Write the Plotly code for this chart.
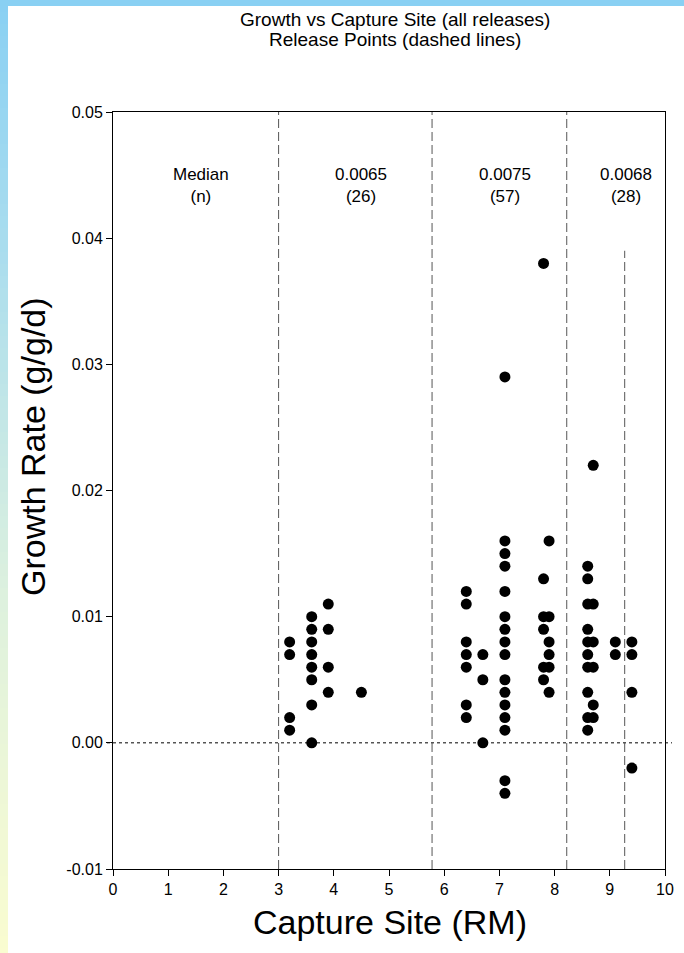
import plotly.graph_objects as go

# Capture site (river mile) and growth rate (g/g/d) for each recaptured fish
capture_site = [
    3.2, 3.2, 3.2, 3.2,
    3.6, 3.6, 3.6, 3.6, 3.6, 3.6, 3.6, 3.6,
    3.9, 3.9, 3.9, 3.9,
    4.5,
    6.4, 6.4, 6.4, 6.4, 6.4, 6.4, 6.4,
    6.7, 6.7, 6.7,
    7.1, 7.1, 7.1, 7.1, 7.1, 7.1, 7.1, 7.1, 7.1, 7.1, 7.1, 7.1, 7.1, 7.1, 7.1, 7.1,
    7.8, 7.8, 7.8, 7.8, 7.8, 7.8,
    7.9, 7.9, 7.9, 7.9, 7.9, 7.9,
    8.6, 8.6, 8.6, 8.6, 8.6, 8.6, 8.6, 8.6, 8.6, 8.6,
    8.7, 8.7, 8.7, 8.7, 8.7, 8.7,
    9.1, 9.1,
    9.4, 9.4, 9.4, 9.4,
]
growth_rate = [
    0.008, 0.007, 0.002, 0.001,
    0.010, 0.009, 0.008, 0.007, 0.006, 0.005, 0.003, 0.000,
    0.011, 0.009, 0.006, 0.004,
    0.004,
    0.012, 0.011, 0.008, 0.007, 0.006, 0.003, 0.002,
    0.007, 0.005, 0.000,
    0.029, 0.016, 0.015, 0.014, 0.012, 0.010, 0.009, 0.008, 0.007, 0.005, 0.004, 0.003, 0.002, 0.001, -0.003, -0.004,
    0.038, 0.013, 0.010, 0.009, 0.006, 0.005,
    0.016, 0.010, 0.008, 0.007, 0.006, 0.004,
    0.014, 0.013, 0.011, 0.009, 0.008, 0.007, 0.006, 0.004, 0.002, 0.001,
    0.022, 0.011, 0.008, 0.006, 0.003, 0.002,
    0.008, 0.007,
    0.008, 0.007, 0.004, -0.002,
]

# Release points (river mile); the last release line only runs up to release_top
release_points = [3.0, 5.78, 8.22, 9.27]
release_top = [0.05, 0.05, 0.05, 0.039]

# Median growth and sample size for each reach
reach_centers = [1.6, 4.5, 7.1, 9.3]
reach_labels = ["Median<br>(n)", "0.0065<br>(26)", "0.0075<br>(57)", "0.0068<br>(28)"]

x_ticks = list(range(0, 11))
y_ticks = [-0.01, 0.00, 0.01, 0.02, 0.03, 0.04, 0.05]

W, H = 684, 953
L, R, T, B = 113, 19, 112, 84
PW, PH = W - L - R, H - T - B


def px_x(px):
    return (px - L) / PW


def px_y(py):
    return (H - B - py) / PH


FONT = "Liberation Sans, Arial, sans-serif"

fig = go.Figure()
fig.add_trace(go.Scatter(
    x=capture_site, y=growth_rate, mode="markers",
    marker=dict(color="black", size=11, line=dict(width=0)),
    showlegend=False, cliponaxis=False,
))

shapes = []

# page backdrop: blue top band and a blue-to-yellow strip down the left edge
stops = [(0, (137, 208, 243)), (250, (170, 221, 238)), (600, (222, 241, 222)), (953, (250, 252, 208))]


def grad(py):
    for (y0, c0), (y1, c1) in zip(stops[:-1], stops[1:]):
        if y0 <= py <= y1:
            t = (py - y0) / (y1 - y0)
            return "rgb(%d,%d,%d)" % tuple(round(a + (b - a) * t) for a, b in zip(c0, c1))
    return "rgb(%d,%d,%d)" % stops[-1][1]


step = 12
for py in range(0, H, step):
    shapes.append(dict(type="rect", xref="paper", yref="paper",
                       x0=px_x(0), x1=px_x(8), y0=px_y(py + step + 1), y1=px_y(py),
                       fillcolor=grad(py + step / 2), line=dict(width=0), layer="below"))
shapes.append(dict(type="rect", xref="paper", yref="paper",
                   x0=px_x(0), x1=px_x(W), y0=px_y(6), y1=px_y(0),
                   fillcolor="rgb(137,208,243)", line=dict(width=0), layer="below"))

# zero reference line
shapes.append(dict(type="line", xref="paper", yref="y", x0=px_x(L - 6), x1=px_x(W - 12), y0=0, y1=0,
                   line=dict(color="black", width=1, dash="dot")))

# release points
for xr, yt in zip(release_points, release_top):
    shapes.append(dict(type="line", xref="x", yref="y", x0=xr, x1=xr, y0=-0.01, y1=yt,
                       line=dict(color="#555555", width=1, dash="9px,4px")))

title_lines = ["Growth vs Capture Site (all releases)", "Release Points (dashed lines)"]
annotations = [
    dict(text=t, xref="paper", yref="paper", x=px_x(395), y=px_y(py),
         xanchor="center", yanchor="middle", showarrow=False,
         font=dict(family=FONT, size=19, color="black"))
    for t, py in zip(title_lines, [19, 39])
]
annotations += [
    dict(text="Capture Site (RM)", xref="paper", yref="paper", x=px_x(390), y=px_y(922),
         xanchor="center", yanchor="middle", showarrow=False,
         font=dict(family=FONT, size=34, color="black")),
    dict(text="Growth Rate (g/g/d)", xref="paper", yref="paper", x=px_x(33), y=px_y(447),
         xanchor="center", yanchor="middle", textangle=-90, showarrow=False,
         font=dict(family=FONT, size=34, color="black")),
]
for xc, lab in zip(reach_centers, reach_labels):
    annotations.append(dict(text=lab, xref="x", yref="y", x=xc, y=0.0442,
                            xanchor="center", yanchor="middle", showarrow=False,
                            font=dict(family=FONT, size=17, color="black")))

fig.update_layout(
    width=W, height=H,
    margin=dict(l=L, r=R, t=T, b=B, autoexpand=False),
    paper_bgcolor="white", plot_bgcolor="white",
    shapes=shapes, annotations=annotations,
    showlegend=False,
    font=dict(family=FONT, color="black"),
)
fig.update_xaxes(
    range=[0, 10], tickvals=x_ticks, ticktext=[str(v) for v in x_ticks],
    ticks="outside", ticklen=6, tickwidth=1, tickcolor="black",
    showline=True, linecolor="black", linewidth=1, mirror=True,
    showgrid=False, zeroline=False, automargin=False,
    tickfont=dict(family=FONT, size=16, color="black"),
)
fig.update_yaxes(
    range=[-0.01, 0.05], tickvals=y_ticks, ticktext=["%.2f" % v for v in y_ticks],
    ticks="outside", ticklen=6, tickwidth=1, tickcolor="black",
    showline=True, linecolor="black", linewidth=1, mirror=True,
    showgrid=False, zeroline=False, automargin=False,
    tickfont=dict(family=FONT, size=16, color="black"),
)

fig.write_html("out.html")
